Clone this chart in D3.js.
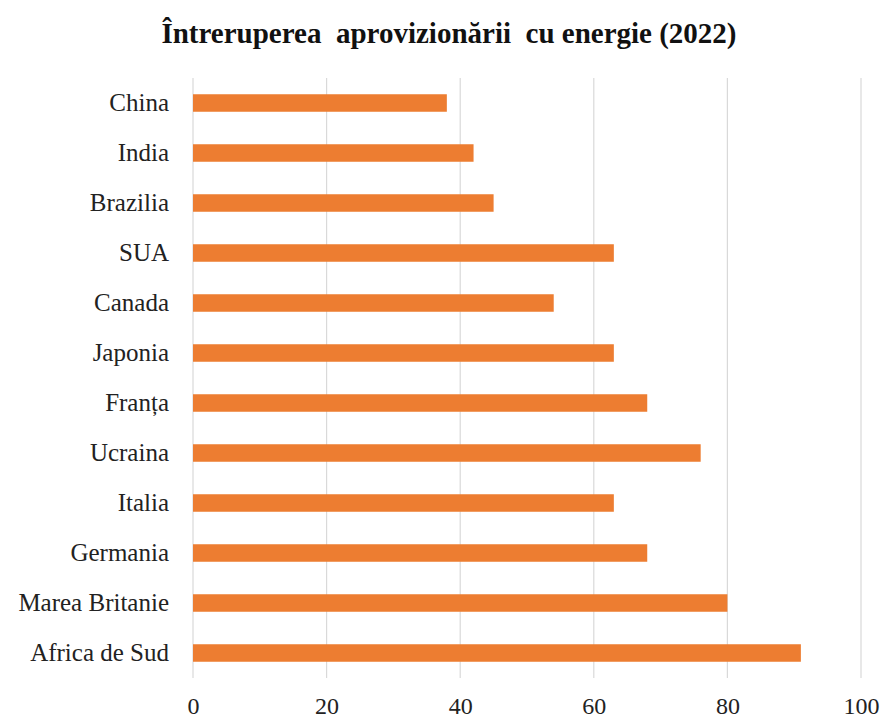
<!DOCTYPE html>
<html><head><meta charset="utf-8">
<script src="https://cdn.jsdelivr.net/npm/d3@7"></script>
<style>
body{margin:0;background:#fff}
svg{display:block}
svg text{font-family:'Liberation Serif','Times New Roman',serif !important}
</style>
</head><body>
<svg id="chart" width="883" height="720"></svg>
<script>
const categories = ["China","India","Brazilia","SUA","Canada","Japonia","Franța","Ucraina","Italia","Germania","Marea Britanie","Africa de Sud"];
const values = [38,42,45,63,54,63,68,76,63,68,80,91];
const ticks = [0,20,40,60,80,100];
const chartTitle = "Întreruperea  aprovizionării  cu energie (2022)";

const svg = d3.select("#chart");
const FF = "'Liberation Serif', 'Times New Roman', serif";
const x = d3.scaleLinear().domain([0,100]).range([193,861]);
const y = d3.scaleBand().domain(categories).range([78,678]).paddingInner(0.65).paddingOuter(0.325);

svg.append("g").selectAll("line").data(ticks).join("line")
  .attr("x1",d=>x(d)).attr("x2",d=>x(d)).attr("y1",78).attr("y2",678)
  .attr("stroke","#d9d9d9").attr("stroke-width",1.2);

svg.append("g").selectAll("rect").data(categories).join("rect")
  .attr("x",x(0)).attr("y",d=>y(d)).attr("height",y.bandwidth())
  .attr("width",(d,i)=>x(values[i])-x(0)).attr("fill","#ED7D31");

const ya = svg.append("g").attr("transform",`translate(${x(0)},0)`)
  .call(d3.axisLeft(y).tickSize(0).tickPadding(24));
ya.select(".domain").remove();
ya.attr("font-family",FF).attr("font-size",25);
ya.selectAll("text").style("font-family",FF,"important").style("font-size","25px").attr("fill","#222");

const xa = svg.append("g").attr("transform",`translate(0,678)`)
  .call(d3.axisBottom(x).tickValues(ticks).tickSize(0).tickPadding(19));
xa.select(".domain").remove();
xa.attr("font-family",FF).attr("font-size",24);
xa.selectAll("text").style("font-family",FF,"important").style("font-size","24px").attr("fill","#222");

svg.append("text").attr("x",449).attr("y",43).attr("text-anchor","middle")
  .style("font-family",FF,"important").style("font-weight","bold").style("font-size","29px")
  .style("white-space","pre").attr("fill","#111").text(chartTitle);
</script>
</body></html>
